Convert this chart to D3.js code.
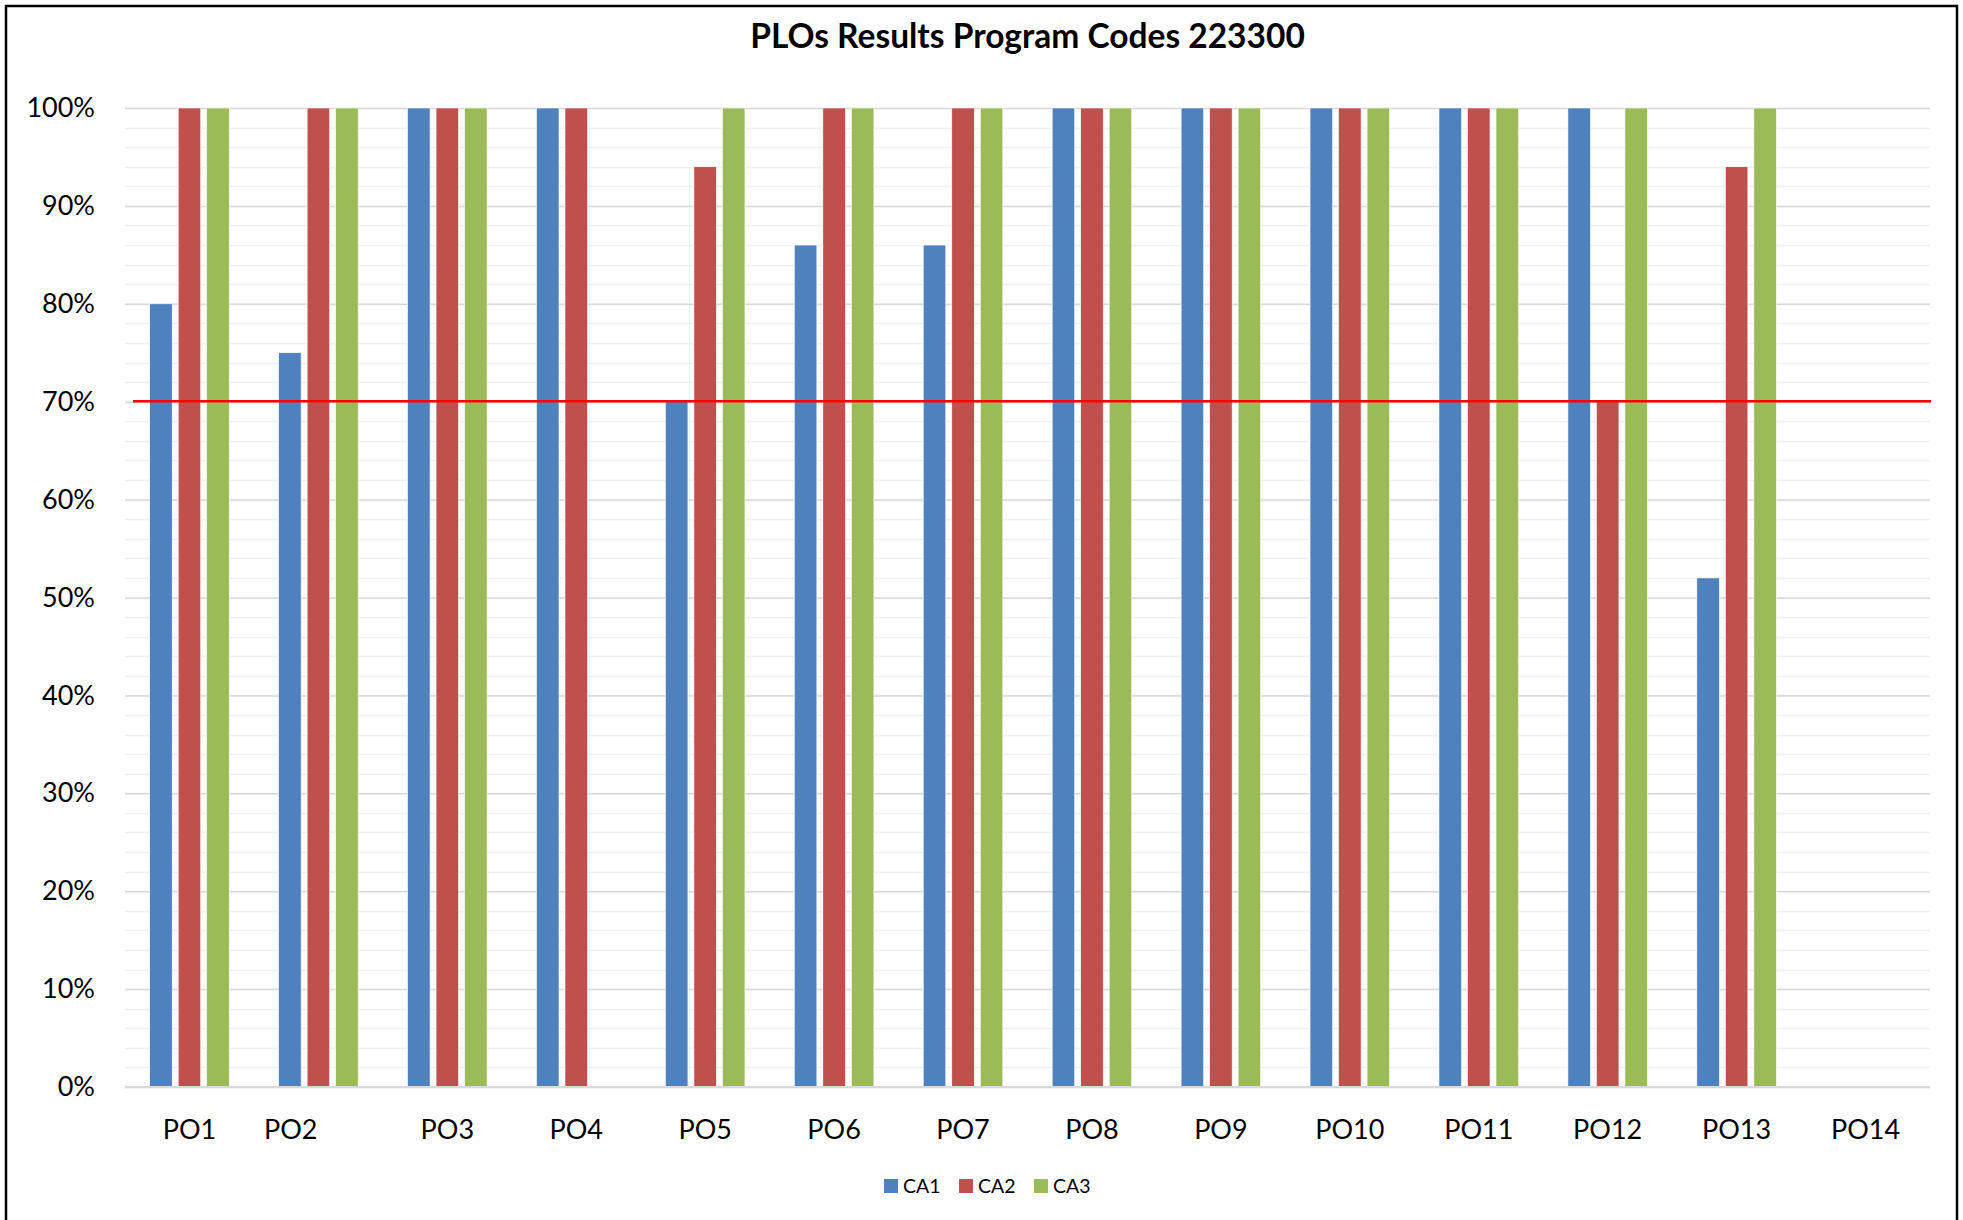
<!DOCTYPE html>
<html>
<head>
<meta charset="utf-8">
<script src="https://cdn.jsdelivr.net/npm/d3@7"></script>
<style>
body { margin: 0; background: #fff; }
text { font-family: Lato, sans-serif; fill: #000; }
.xlab text { white-space: pre; }
</style>
</head>
<body>
<div id="chart"></div>
<script>
// categories (PO2 label carries trailing spaces in the source sheet)
var categories = ["PO1","PO2","PO3","PO4","PO5","PO6","PO7","PO8","PO9","PO10","PO11","PO12","PO13","PO14"];
var catLabels = ["PO1","PO2        ","PO3","PO4","PO5","PO6","PO7","PO8","PO9","PO10","PO11","PO12","PO13","PO14"];
var seriesNames = ["CA1","CA2","CA3"];
var ca1 = [0.80,0.75,1.00,1.00,0.70,0.86,0.86,1.00,1.00,1.00,1.00,1.00,0.52,null];
var ca2 = [1.00,1.00,1.00,1.00,0.94,1.00,1.00,1.00,1.00,1.00,1.00,0.70,0.94,null];
var ca3 = [1.00,1.00,1.00,null,1.00,1.00,1.00,1.00,1.00,1.00,1.00,1.00,1.00,null];
var yTicks = [0,0.1,0.2,0.3,0.4,0.5,0.6,0.7,0.8,0.9,1.0];
var target = 0.7;
var title = "PLOs Results Program Codes 223300";

var colors = ["#4F81BD","#C0504D","#9BBB59"];
var W = 1963, H = 1220;
var pl = 125, pr = 1930, pt = 108, pb = 1087;

function draw(){
var svg = d3.select("#chart").append("svg")
  .attr("width", W).attr("height", H);

// chart frame
svg.append("rect")
  .attr("x", 6).attr("y", 6)
  .attr("width", 1951).attr("height", 1240)
  .attr("fill", "#fff").attr("stroke", "#000").attr("stroke-width", 2.5);

var x = d3.scaleBand().domain(categories).range([pl, pr])
  .paddingInner(0.383).paddingOuter(0.1915);
var xs = d3.scaleBand().domain(seriesNames).range([0, x.bandwidth()])
  .paddingInner(0.21);
var y = d3.scaleLinear().domain([0, 1]).range([pb, pt]);

// minor grid
var minor = d3.range(0, 1.0001, 0.02);
svg.append("g").selectAll("line").data(minor).enter().append("line")
  .attr("x1", pl).attr("x2", pr)
  .attr("y1", function(d){ return Math.round(y(d)) + 0.5; })
  .attr("y2", function(d){ return Math.round(y(d)) + 0.5; })
  .attr("stroke", "#f0f0f0").attr("stroke-width", 1.5);

// major grid + y labels
var yAxis = svg.append("g").attr("transform", "translate(" + pl + ",0)")
  .call(d3.axisLeft(y).tickValues(yTicks).tickFormat(d3.format(".0%"))
    .tickSize(-(pr - pl)).tickPadding(30));
yAxis.select(".domain").remove();
yAxis.selectAll(".tick line").attr("stroke", "#d9d9d9").attr("stroke-width", 1.5);
yAxis.selectAll("text").style("font-size", "27px").attr("fill", "#000");

// bars
var series = [ca1, ca2, ca3];
series.forEach(function(vals, si){
  var data = categories.map(function(c, i){ return {cat: c, v: vals[i]}; })
    .filter(function(d){ return d.v != null; });
  svg.append("g").selectAll("rect").data(data).enter().append("rect")
    .attr("x", function(d){ return x(d.cat) + xs(seriesNames[si]); })
    .attr("y", function(d){ return y(d.v); })
    .attr("width", xs.bandwidth())
    .attr("height", function(d){ return y(0) - y(d.v); })
    .attr("fill", colors[si])
    .attr("stroke", "#fff").attr("stroke-width", 0.6);
});

// baseline
svg.append("line")
  .attr("x1", pl).attr("x2", pr)
  .attr("y1", y(0)).attr("y2", y(0))
  .attr("stroke", "#d9d9d9").attr("stroke-width", 2);

// target line
svg.append("line")
  .attr("x1", pl + 8).attr("x2", pr + 1)
  .attr("y1", y(target) - 0.5).attr("y2", y(target) - 0.5)
  .attr("stroke", "#ff0000").attr("stroke-width", 2.5);

// x labels
var xAxis = svg.append("g").attr("class", "xlab")
  .attr("transform", "translate(0," + pb + ")")
  .call(d3.axisBottom(x).tickSize(0).tickPadding(33)
    .tickFormat(function(d, i){ return catLabels[i]; }));
xAxis.select(".domain").remove();
xAxis.selectAll("text").style("font-size", "27px").attr("fill", "#000");

// title
svg.append("text")
  .attr("x", (pl + pr) / 2).attr("y", 48)
  .attr("text-anchor", "middle")
  .style("font-size", "33.5px").style("font-weight", "bold")
  .text(title);

// legend
var leg = svg.append("g").attr("transform", "translate(884,1179)");
var item = leg.selectAll("g").data(seriesNames).enter().append("g")
  .attr("transform", function(d, i){ return "translate(" + (i * 75) + ",0)"; });
item.append("rect").attr("width", 14).attr("height", 14)
  .attr("fill", function(d, i){ return colors[i]; });
item.append("text").attr("x", 19).attr("y", 14)
  .style("font-size", "19.5px").text(function(d){ return d; });
}
draw();
</script>
</body>
</html>
